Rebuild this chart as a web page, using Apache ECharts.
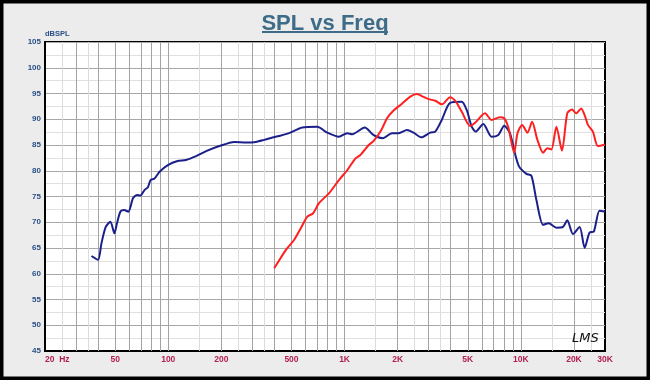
<!DOCTYPE html>
<html>
<head>
<meta charset="utf-8">
<script src="https://cdn.jsdelivr.net/npm/echarts@6/dist/echarts.min.js"></script>
<style>
html,body{margin:0;padding:0;background:#ebebeb;}
#chart{width:650px;height:380px;}
</style>
</head>
<body>
<div id="chart"></div>
<script>
// ---- data ----
const blueFreq = [36.7,40,41.8,44.2,47,49.5,51.2,53.5,56.1,59.4,63.1,66.4,69.5,73.5,76.7,79.4,83.6,89.3,99.5,113,126,144,164,195,237,276,314,350,390,425,484,576,700,797,929,1035,1104,1302,1463,1645,1858,2026,2258,2461,2724,3062,3269,3562,3967,4614,4929,5262,5541,6124,6823,7448,8046,8666,9250,9780,10760,11480,12250,13370,14390,15900,17340,18330,19750,21540,22990,24530,25940,27930,30000];
const blueSPL  = [63.45,62.7,65.9,69.1,70.1,67.85,69.8,72.05,72.4,72.05,74.65,75.3,75.2,76.3,76.8,78.2,78.5,79.8,81.1,81.9,82.1,82.85,83.8,84.8,85.6,85.5,85.6,86.0,86.45,86.75,87.3,88.4,88.55,87.4,86.6,87.3,87.1,88.4,86.9,86.3,87.3,87.3,87.9,87.4,86.5,87.4,87.6,89.9,93.2,93.4,91.8,88.55,87.6,89.1,86.6,86.95,88.75,87.3,83.4,80.8,79.4,79.0,74.3,69.5,69.8,68.95,69.1,70.4,67.7,69.1,65.05,68.0,68.2,72.25,72.05];
const redFreq = [399,464,517,564,615,662,716,815,929,1035,1154,1230,1371,1463,1617,1741,1897,2115,2359,2570,2744,2993,3269,3562,3967,4237,4614,5149,5497,6262,6823,7603,8046,8470,9163,9568,10170,10900,11580,12410,13370,14130,14900,15900,17100,18330,19480,20610,21980,22990,24000,25600,27330,30000];
const redSPL  = [61.05,64.6,66.55,68.8,71.1,71.7,73.7,75.6,78.2,80.1,82.4,83.05,85.0,85.8,87.9,90.2,91.7,93.0,94.4,94.9,94.5,93.9,93.6,92.9,94.25,93.6,91.5,88.7,89.3,91.15,89.85,90.4,90.2,88.55,83.5,87.3,88.9,87.4,89.5,86.0,83.5,84.35,84.15,88.55,83.9,91.15,91.9,91.15,92.1,90.8,88.9,87.6,84.8,85.1];
const freqTicks = [20,50,100,200,500,1000,2000,5000,10000,20000,30000];
const freqTickLabels = ['20  Hz','50','100','200','500','1K','2K','5K','10K','20K','30K'];
const majorGridFreq = [30,40,50,60,70,80,90,100,200,300,400,500,600,700,800,900,1000,2000,3000,4000,5000,6000,7000,8000,9000,10000,20000];
const minorGridFreq = [25,35,150,250,350,1500,2500,3500,15000,25000];
const titleText = 'SPL vs Freq';
const yName = 'dBSPL';
const watermark = 'LMS';

const pair = (xs, ys) => xs.map((x, i) => [x, ys[i]]);
const labelMap = {};
freqTicks.forEach((v, i) => { labelMap[v] = freqTickLabels[i]; });

const chart = echarts.init(document.getElementById('chart'), null, {renderer: 'canvas'});
chart.setOption({
  animation: false,
  backgroundColor: '#ececec',
  title: {
    text: titleText, left: 'center', top: 8,
    textStyle: {fontFamily: 'Liberation Sans, Arial', fontSize: 22, fontWeight: 'bold', color: '#3e6b87'}
  },
  grid: {
    left: 45, right: 45, top: 42, bottom: 29,
    show: true, backgroundColor: '#ffffff', borderColor: '#000', borderWidth: 2
  },
  xAxis: {
    type: 'log', logBase: 10, min: 20, max: 30000,
    axisLine: {show: true, onZero: false, lineStyle: {color: '#000', width: 2}},
    axisTick: {show: false},
    splitLine: {show: false},
    axisLabel: {
      customValues: freqTicks,
      formatter: v => labelMap[Math.round(v)] || '',
      fontFamily: 'Liberation Sans, Arial', fontSize: 8.5, fontWeight: 'bold', color: '#b3204f',
      margin: 4, alignMinLabel: 'left', showMinLabel: true, showMaxLabel: true, hideOverlap: false
    }
  },
  yAxis: {
    type: 'value', min: 45, max: 105, interval: 5,
    name: yName, nameLocation: 'end', nameGap: 3,
    nameTextStyle: {fontFamily: 'Liberation Sans, Arial', fontSize: 7.5, fontWeight: 'bold', color: '#2a4f85', align: 'left', padding: [0, 0, 0, 0]},
    axisLine: {show: true, lineStyle: {color: '#000', width: 2}},
    axisTick: {show: false},
    axisLabel: {fontFamily: 'Liberation Sans, Arial', fontSize: 8, fontWeight: 'bold', color: '#2a4f85', margin: 4},
    splitLine: {show: true, lineStyle: {color: '#a8a8a8', width: 1}},
    minorTick: {show: false, splitNumber: 2},
    minorSplitLine: {show: true, lineStyle: {color: '#e0e0e0', width: 1}}
  },
  graphic: [
    {type: 'rect', silent: true, z: 100, shape: {x: 0, y: 0, width: 650, height: 380},
     style: {fill: 'none', stroke: '#000', lineWidth: 7}},
    {type: 'rect', silent: true, z: 100, shape: {x: 262, y: 31, width: 126, height: 2},
     style: {fill: '#3e6b87'}},
    {type: 'text', silent: true, z: 100, x: 572, y: 332,
     style: {text: watermark, font: 'italic 13px "DejaVu Sans", sans-serif', fill: '#111'}}
  ],
  series: [
    {type: 'line', name: 'minorgrid', data: [], silent: true, z: 1,
     markLine: {silent: true, symbol: 'none', label: {show: false}, animation: false,
       lineStyle: {color: '#dcdcdc', width: 1, type: 'solid'},
       data: minorGridFreq.map(v => ({xAxis: v}))}},
    {type: 'line', name: 'majorgrid', data: [], silent: true, z: 1,
     markLine: {silent: true, symbol: 'none', label: {show: false}, animation: false,
       lineStyle: {color: '#a3a3a3', width: 1, type: 'solid'},
       data: majorGridFreq.map(v => ({xAxis: v}))}},
    {type: 'line', name: 'Blue', data: pair(blueFreq, blueSPL), showSymbol: false, smooth: 0.25, z: 5,
     lineStyle: {color: '#1b1f8a', width: 2}},
    {type: 'line', name: 'Red', data: pair(redFreq, redSPL), showSymbol: false, smooth: 0.25, z: 6,
     lineStyle: {color: '#ff1f1f', width: 2}}
  ]
});
</script>
</body>
</html>
